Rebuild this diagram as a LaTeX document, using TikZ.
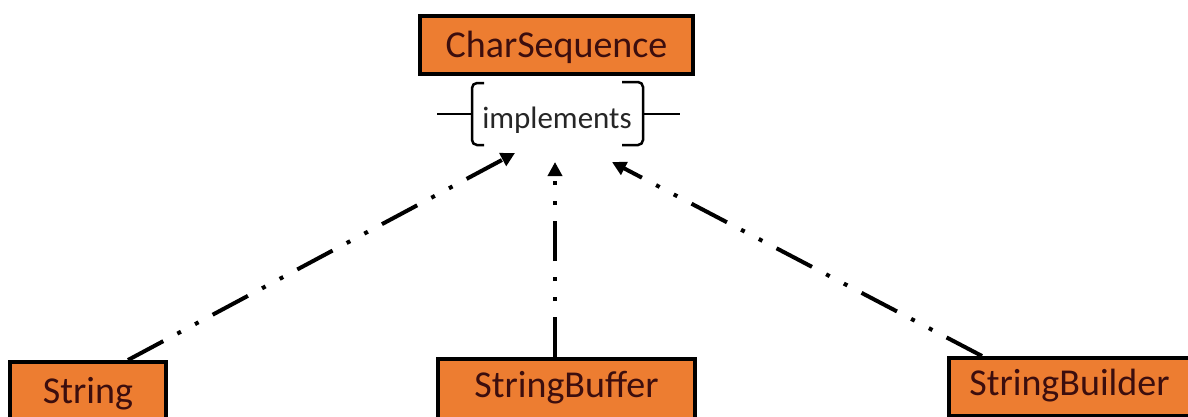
\documentclass[tikz,border=0pt]{standalone}
\usepackage{fontspec}
\setmainfont{Carlito}
\usetikzlibrary{arrows.meta}
\definecolor{boxfill}{RGB}{237,125,49}
\definecolor{labeltext}{RGB}{60,14,14}
\begin{document}
\begin{tikzpicture}[x=1pt,y=-1pt,
  classbox/.style={draw=black, line width=4pt, fill=boxfill, text=labeltext,
    font=\fontsize{38}{40}\selectfont, text height=25pt, text depth=9pt, inner sep=0pt},
  realizes/.style={line width=4pt,
    dash pattern=on 40pt off 16pt on 4pt off 16pt on 4pt off 16pt,
    -{Triangle[length=14pt,width=14pt]}},
  bracket/.style={line width=2.5pt, rounded corners=5pt}]
\useasboundingbox (0,0) rectangle (1188,416);
\fill[white] (0,0) rectangle (1188,416);
\clip (0,0) rectangle (1188,416);

% interface and implementing classes
\node[classbox, minimum width=273pt, minimum height=58pt, text depth=1pt] (charseq) at (556.5,45) {CharSequence};
\node[classbox, minimum width=156pt, minimum height=66pt] (string) at (88,395) {String};
\node[classbox, minimum width=257pt, minimum height=60pt] (sbuffer) at (566.5,389) {StringBuffer};
\node[classbox, minimum width=241pt, minimum height=58pt] (sbuilder) at (1069.5,387) {StringBuilder};

% relation label with its braces
\node[font=\fontsize{31}{33}\selectfont, text=black!85, anchor=base, inner sep=0pt] (impl) at (557,128) {implements};
\draw[bracket] (484,83) -- (472,83) -- (472,145) -- (484,145);
\draw[line width=2.5pt] (437,114) -- (472,114);
\draw[bracket] (622,82) -- (643,82) -- (643,145) -- (622,145);
\draw[line width=2.5pt] (643,114) -- (680,114);

% arrow targets below the label
\coordinate (tipL) at (515,153);
\coordinate (tipM) at (555,162);
\coordinate (tipR) at (612,162);

\draw[realizes] ([xshift=40pt]string.north) -- (tipL);
\draw[realizes] ([xshift=-11.5pt]sbuffer.north) -- (tipM);
\draw[realizes] ([xshift=-87.5pt]sbuilder.north) -- (tipR);
\end{tikzpicture}
\end{document}
